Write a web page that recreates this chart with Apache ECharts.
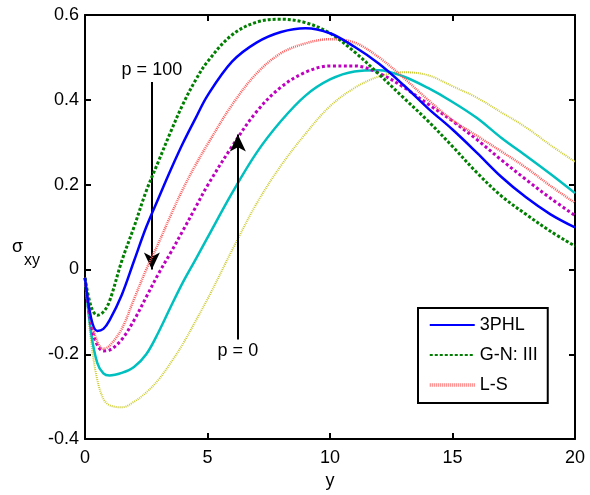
<!DOCTYPE html>
<html>
<head>
<meta charset="utf-8">
<script src="https://cdn.jsdelivr.net/npm/echarts@6/dist/echarts.min.js"></script>
<style>
html,body{margin:0;padding:0;background:#fff;}
#chart{width:590px;height:495px;}
</style>
</head>
<body>
<div id="chart"></div>
<script>
// shared abscissa (y)
var yPos = [0,0.25,0.5,0.75,1,1.5,2,2.5,3,3.5,4,4.5,5,6,7,8,9,10,11,12,13,14,15,16,17,18,19,20];

// p = 100 curves
var blue3PHL = [-0.02,-0.115,-0.145,-0.14,-0.12,-0.06,0.02,0.10,0.168,0.235,0.298,0.355,0.41,0.49,0.535,0.56,0.569,0.557,0.525,0.485,0.435,0.38,0.33,0.275,0.218,0.17,0.13,0.099];
var greenGN3 = [-0.02,-0.088,-0.108,-0.10,-0.075,0.02,0.10,0.185,0.255,0.325,0.39,0.445,0.49,0.553,0.583,0.59,0.582,0.557,0.513,0.46,0.405,0.35,0.29,0.228,0.173,0.13,0.09,0.055];
var pinkLS = [-0.02,-0.12,-0.17,-0.187,-0.18,-0.14,-0.07,0.0,0.062,0.128,0.19,0.245,0.295,0.388,0.462,0.51,0.533,0.543,0.535,0.50,0.452,0.40,0.352,0.315,0.278,0.24,0.197,0.157];

// p = 0 curves
var magentaP0 = [-0.02,-0.13,-0.178,-0.192,-0.19,-0.165,-0.12,-0.065,-0.01,0.04,0.092,0.145,0.198,0.29,0.372,0.43,0.465,0.48,0.48,0.463,0.43,0.39,0.35,0.306,0.258,0.212,0.168,0.127];
var cyanP0 = [-0.02,-0.15,-0.22,-0.245,-0.25,-0.244,-0.23,-0.2,-0.148,-0.088,-0.03,0.022,0.075,0.18,0.275,0.35,0.41,0.448,0.467,0.47,0.455,0.428,0.395,0.357,0.31,0.268,0.225,0.18];
var yellowP0 = [-0.02,-0.17,-0.26,-0.305,-0.32,-0.325,-0.312,-0.29,-0.26,-0.22,-0.175,-0.123,-0.07,0.045,0.155,0.245,0.32,0.385,0.428,0.455,0.465,0.458,0.432,0.405,0.37,0.335,0.293,0.254];

var xTicks = [0,5,10,15,20];
var yTicks = [-0.4,-0.2,0,0.2,0.4,0.6];

// annotation arrows: [x, yStart, yEnd, text]
var arrow100 = [2.73, 0.442, 0.0, 'p = 100'];
var arrow0 = [6.24, -0.165, 0.318, 'p = 0'];

function pairs(v){ return yPos.map(function(x,i){ return [x, v[i]]; }); }

var FONT = 'Liberation Sans, Arial, sans-serif';
var chart = echarts.init(document.getElementById('chart'));

function lineSeries(name, vals, color, width, dash, z){
  return {
    name: name, type: 'line', data: pairs(vals), symbol: 'none', smooth: 0.35,
    lineStyle: {color: color, width: width, type: dash, cap: 'butt'},
    itemStyle: {color: color}, z: z, animation: false
  };
}

function arrowSeries(a){
  return {
    type: 'line', data: [], animation: false, silent: true,
    markLine: {
      silent: true, animation: false,
      symbol: ['none','arrow'], symbolSize: [12, 17],
      lineStyle: {color: '#000', width: 2, type: 'solid'},
      label: {show: true, position: 'start', formatter: a[3], color: '#000',
              fontSize: 18, fontFamily: FONT, distance: 3},
      data: [[{coord: [a[0], a[1]]}, {coord: [a[0], a[2]]}]]
    }
  };
}

var axisCommon = {
  axisLine: {show: true, onZero: false, lineStyle: {color: '#000', width: 2}},
  axisTick: {show: true, inside: true, length: 6, lineStyle: {color: '#000', width: 2}},
  splitLine: {show: false}
};

var option = {
  backgroundColor: '#fff',
  animation: false,
  grid: {left: 85, right: 15, top: 15, bottom: 55},
  xAxis: [
    Object.assign({type: 'value', min: xTicks[0], max: xTicks[xTicks.length-1], interval: 5, position: 'bottom',
      name: 'y', nameLocation: 'middle', nameGap: 27,
      nameTextStyle: {color: '#000', fontSize: 18, fontFamily: FONT},
      axisLabel: {color: '#000', fontSize: 18, fontFamily: FONT, margin: 10}}, axisCommon),
    Object.assign({type: 'value', min: xTicks[0], max: xTicks[xTicks.length-1], interval: 5, position: 'top',
      axisLabel: {show: false}}, axisCommon)
  ],
  yAxis: [
    Object.assign({type: 'value', min: yTicks[0], max: yTicks[yTicks.length-1], interval: 0.2, position: 'left',
      axisLabel: {color: '#000', fontSize: 18, fontFamily: FONT, margin: 6}}, axisCommon),
    Object.assign({type: 'value', min: yTicks[0], max: yTicks[yTicks.length-1], interval: 0.2, position: 'right',
      axisLabel: {show: false}}, axisCommon)
  ],
  legend: {
    data: ['3PHL', 'G-N: III', {name: 'L-S', lineStyle: {width: 3.5, color: '#ff7070'}}],
    orient: 'vertical', left: 418, top: 308,
    padding: [8, 10, 9, 10], itemGap: 12, itemWidth: 45, itemHeight: 14,
    borderColor: '#000', borderWidth: 2, backgroundColor: '#fff',
    selectedMode: false,
    itemStyle: {opacity: 0, borderWidth: 0},
    textStyle: {color: '#000', fontSize: 18, fontFamily: FONT}
  },
  series: [
    lineSeries('yellow', yellowP0, '#cccc33', 2, [1,1], 2),
    lineSeries('cyan', cyanP0, '#00bfbf', 2.5, 'solid', 3),
    lineSeries('magenta', magentaP0, '#bf00bf', 3, [3,2.5], 4),
    lineSeries('L-S', pinkLS, '#ff5c5c', 2.5, [1,1], 5),
    lineSeries('G-N: III', greenGN3, '#007f00', 3, [3,2], 6),
    lineSeries('3PHL', blue3PHL, '#0000ff', 2.5, 'solid', 7),
    arrowSeries(arrow100),
    arrowSeries(arrow0)
  ],
  graphic: [
    {type: 'text', left: 12, top: 238, style: {text: 'σ', fontSize: 18, fontFamily: FONT, fill: '#000'}},
    {type: 'text', left: 24, top: 253, style: {text: 'xy', fontSize: 16, fontFamily: FONT, fill: '#000'}}
  ]
};
chart.setOption(option);
</script>
</body>
</html>
